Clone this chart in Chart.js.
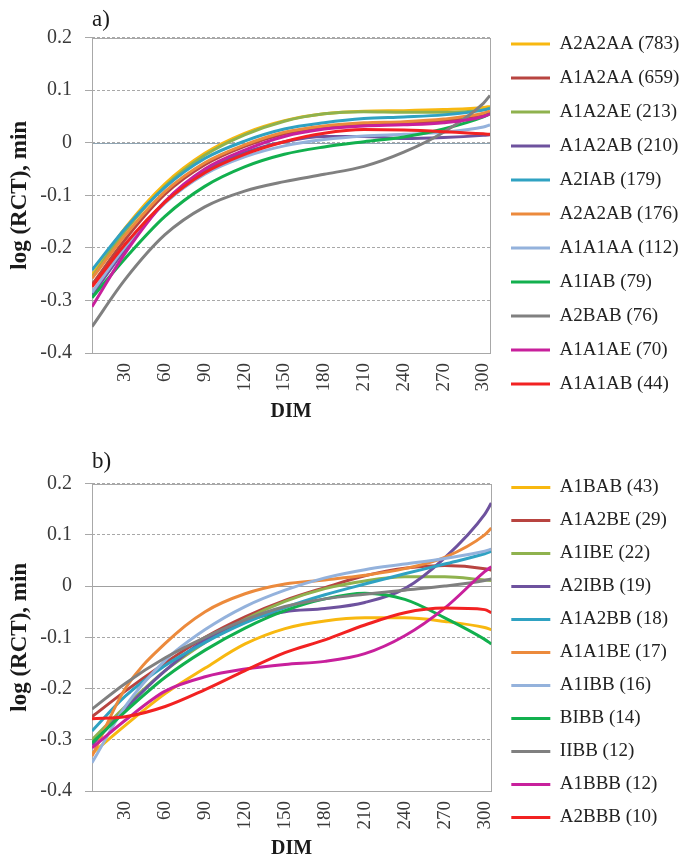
<!DOCTYPE html>
<html>
<head>
<meta charset="utf-8">
<script src="https://cdn.jsdelivr.net/npm/chart.js@4.4.1/dist/chart.umd.min.js"></script>
<style>
  html, body { margin: 0; padding: 0; background: #fff; }
  #wrapA { position: absolute; left: 0; top: 0; }
  #wrapB { position: absolute; left: 0; top: 428px; }
</style>
</head>
<body>
<div id="wrapA"><canvas id="chartA" width="685" height="428"></canvas></div>
<div id="wrapB"><canvas id="chartB" width="685" height="433"></canvas></div>
<script>
const dim = [5, 30, 60, 90, 120, 150, 180, 210, 240, 270, 300, 305]
const dimTicks = [30, 60, 90, 120, 150, 180, 210, 240, 270, 300]
const yTicks = [-0.4, -0.3, -0.2, -0.1, 0, 0.1, 0.2]

// panel a)
const namesA = ['A2A2AA (783)', 'A1A2AA (659)', 'A1A2AE (213)', 'A1A2AB (210)', 'A2IAB (179)',
  'A2A2AB (176)', 'A1A1AA (112)', 'A1IAB (79)', 'A2BAB (76)', 'A1A1AE (70)', 'A1A1AB (44)']
const a_A2A2AA = [-0.252, -0.162, -0.078, -0.02, 0.018, 0.042, 0.055, 0.06, 0.061, 0.063, 0.067, 0.069]
const a_A1A2AA = [-0.27, -0.184, -0.098, -0.042, -0.007, 0.017, 0.03, 0.036, 0.038, 0.042, 0.054, 0.058]
const a_A1A2AE = [-0.256, -0.168, -0.083, -0.024, 0.015, 0.041, 0.055, 0.059, 0.058, 0.058, 0.063, 0.066]
const a_A1A2AB = [-0.29, -0.203, -0.112, -0.054, -0.019, 0.002, 0.012, 0.012, 0.008, 0.01, 0.014, 0.015]
const a_A2IAB = [-0.242, -0.163, -0.085, -0.03, 0.003, 0.026, 0.038, 0.046, 0.049, 0.053, 0.062, 0.065]
const a_A2A2AB = [-0.258, -0.176, -0.093, -0.038, -0.004, 0.02, 0.032, 0.038, 0.04, 0.045, 0.056, 0.06]
const a_A1A1AA = [-0.285, -0.198, -0.115, -0.06, -0.027, -0.006, 0.006, 0.013, 0.016, 0.02, 0.03, 0.034]
const a_A1IAB = [-0.295, -0.22, -0.14, -0.083, -0.046, -0.022, -0.008, 0.002, 0.011, 0.026, 0.049, 0.055]
const a_A2BAB = [-0.35, -0.26, -0.175, -0.122, -0.092, -0.074, -0.06, -0.045, -0.018, 0.02, 0.075, 0.09]
const a_A1A1AE = [-0.312, -0.21, -0.112, -0.05, -0.014, 0.012, 0.026, 0.032, 0.034, 0.038, 0.05, 0.055]
const a_A1A1AB = [-0.274, -0.193, -0.113, -0.057, -0.022, 0.002, 0.018, 0.025, 0.024, 0.021, 0.017, 0.016]
const valuesA = [a_A2A2AA, a_A1A2AA, a_A1A2AE, a_A1A2AB, a_A2IAB, a_A2A2AB, a_A1A1AA, a_A1IAB, a_A2BAB, a_A1A1AE, a_A1A1AB]

// panel b)
const namesB = ['A1BAB (43)', 'A1A2BE (29)', 'A1IBE (22)', 'A2IBB (19)', 'A1A2BB (18)',
  'A1A1BE (17)', 'A1IBB (16)', 'BIBB (14)', 'IIBB (12)', 'A1BBB (12)', 'A2BBB (10)']
const b_A1BAB = [-0.327, -0.272, -0.21, -0.16, -0.113, -0.083, -0.068, -0.062, -0.062, -0.069, -0.081, -0.085]
const b_A1A2BE = [-0.255, -0.205, -0.15, -0.1, -0.06, -0.028, -0.003, 0.02, 0.035, 0.04, 0.034, 0.031]
const b_A1IBE = [-0.3, -0.235, -0.165, -0.11, -0.065, -0.03, -0.005, 0.01, 0.018, 0.018, 0.012, 0.011]
const b_A2IBB = [-0.31, -0.24, -0.165, -0.105, -0.068, -0.05, -0.044, -0.032, -0.005, 0.055, 0.14, 0.162]
const b_A1A2BB = [-0.283, -0.215, -0.155, -0.11, -0.072, -0.042, -0.017, 0.004, 0.024, 0.043, 0.063, 0.068]
const b_A1A1BE = [-0.332, -0.2, -0.112, -0.05, -0.015, 0.004, 0.012, 0.021, 0.034, 0.056, 0.1, 0.113]
const b_A1IBB = [-0.345, -0.235, -0.145, -0.085, -0.04, -0.008, 0.016, 0.032, 0.043, 0.054, 0.068, 0.072]
const b_BIBB = [-0.306, -0.245, -0.178, -0.125, -0.082, -0.048, -0.025, -0.014, -0.026, -0.062, -0.104, -0.113]
const b_IIBB = [-0.24, -0.19, -0.14, -0.1, -0.066, -0.04, -0.025, -0.016, -0.008, 0.0, 0.011, 0.014]
const b_A1BBB = [-0.316, -0.262, -0.205, -0.177, -0.162, -0.153, -0.147, -0.132, -0.097, -0.043, 0.028, 0.038]
const b_A2BBB = [-0.259, -0.255, -0.235, -0.202, -0.165, -0.13, -0.105, -0.076, -0.052, -0.043, -0.046, -0.052]
const valuesB = [b_A1BAB, b_A1A2BE, b_A1IBE, b_A2IBB, b_A1A2BB, b_A1A1BE, b_A1IBB, b_BIBB, b_IIBB, b_A1BBB, b_A2BBB]

const colors = ['#f8b810', '#b84440', '#8fb24e', '#6e529e', '#2fa2c2', '#ec8a3c',
  '#94b2dc', '#12b04e', '#808080', '#c8209c', '#f22222']

const serif = '"Liberation Serif", "Times New Roman", serif'

// frame round the plot area plus the solid zero line
const framePlugin = {
  id: 'frame',
  beforeDatasetsDraw(chart, args, opts) {
    let { ctx, chartArea } = chart
    let y0 = chart.scales.y.getPixelForValue(0)
    ctx.save()
    ctx.lineWidth = 1
    ctx.strokeStyle = opts.zeroColor
    ctx.beginPath()
    ctx.moveTo(chartArea.left, Math.round(y0) + 0.5)
    ctx.lineTo(chartArea.right, Math.round(y0) + 0.5)
    ctx.stroke()
    ctx.strokeStyle = '#a8a8a8'
    ctx.strokeRect(Math.round(chartArea.left) + 0.5, Math.round(chartArea.top) + 0.5,
      Math.round(chartArea.right - chartArea.left), Math.round(chartArea.bottom - chartArea.top))
    ctx.restore()
  },
}

function makeChart(id, panel, names, values, cfg) {
  let datasets = names.map(function(name, i) {
    return {
      label: name,
      data: dim.map((x, k) => ({ x: x, y: values[i][k] })),
      borderColor: colors[i],
      backgroundColor: colors[i],
      borderWidth: 3,
      pointRadius: 0,
      fill: false,
      cubicInterpolationMode: 'monotone',
      order: -i,
    }
  })
  return new Chart(document.getElementById(id), {
    type: 'line',
    data: { datasets: datasets },
    plugins: [framePlugin],
    options: {
      responsive: false,
      animation: false,
      events: [],
      layout: { padding: { left: 0, top: 0, bottom: 0, right: cfg.padRight } },
      scales: {
        x: {
          type: 'linear',
          min: 5,
          max: 305,
          afterBuildTicks(scale) {
            scale.ticks = dimTicks.map(v => ({ value: v }))
          },
          afterFit(scale) {
            scale.height = cfg.xHeight
          },
          grid: { display: false, drawTicks: false },
          border: { display: false },
          ticks: {
            autoSkip: false,
            minRotation: 90,
            maxRotation: 90,
            padding: 10,
            color: '#3a3a3a',
            font: { family: serif, size: 19 },
          },
          title: {
            display: true,
            text: 'DIM',
            color: '#1a1a1a',
            font: { family: serif, size: 20, weight: 'bold' },
            padding: { top: 0, bottom: cfg.dimBottom },
          },
        },
        y: {
          min: -0.4,
          max: 0.2,
          afterBuildTicks(scale) {
            scale.ticks = yTicks.map(v => ({ value: v }))
          },
          afterFit(scale) {
            scale.width = 92
          },
          grid: {
            color: '#a8a8a8',
            lineWidth: 1,
            drawTicks: true,
            tickLength: 7,
            tickColor: '#a8a8a8',
          },
          border: { display: false, dash: [3, 2] },
          ticks: {
            padding: 13,
            color: '#3a3a3a',
            font: { family: serif, size: 20 },
            callback: v => (Math.abs(v) < 1e-9 ? '0' : v.toFixed(1)),
          },
          title: {
            display: true,
            text: 'log (RCT), min',
            color: '#1a1a1a',
            font: { family: serif, size: 23, weight: 'bold' },
            padding: { top: 6, bottom: 0 },
          },
        },
        // empty axis, only keeps a small gap between plot and legend
        gap: {
          type: 'linear',
          position: 'right',
          grid: { display: false },
          border: { display: false },
          ticks: { display: false },
          afterFit(scale) {
            scale.width = 6
          },
        },
      },
      plugins: {
        frame: { zeroColor: cfg.zeroColor },
        tooltip: { enabled: false },
        title: {
          display: true,
          text: panel,
          align: 'start',
          fullSize: false,
          color: '#1a1a1a',
          font: { family: serif, size: 23, weight: 'normal' },
          padding: { top: cfg.titleTop, bottom: cfg.titleBottom },
        },
        legend: {
          position: 'right',
          maxWidth: 189,
          // blank legend title only pushes the entries down a little
          title: {
            display: cfg.legendShift > 0,
            text: ' ',
            font: { family: serif, size: 10 },
            padding: { top: cfg.legendShift / 2, bottom: cfg.legendShift / 2 - 12 },
          },
          labels: {
            usePointStyle: true,
            pointStyle: 'line',
            pointStyleWidth: 39,
            padding: cfg.legendPad,
            color: '#222',
            font: { family: serif, size: 19 },
            sort: (a, b) => a.datasetIndex - b.datasetIndex,
          },
        },
      },
    },
  })
}

makeChart('chartA', 'a)', namesA, valuesA, {
  padRight: 0, xHeight: 75, dimBottom: 4, titleTop: 6, titleBottom: 4,
  legendPad: 15, legendShift: 0, zeroColor: '#8fa4b2',
})
makeChart('chartB', 'b)', namesB, valuesB, {
  padRight: 7, xHeight: 70, dimBottom: 0, titleTop: 20, titleBottom: 8,
  legendPad: 14, legendShift: 16, zeroColor: '#a0a0a0',
})
</script>
</body>
</html>
